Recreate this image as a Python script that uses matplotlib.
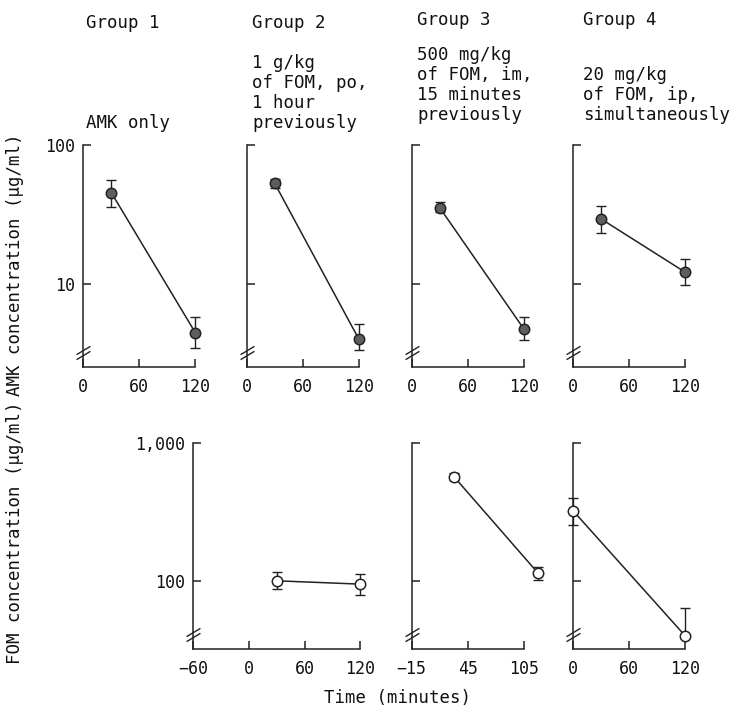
# ─────────────────────────────────────────────────────────
# plot.py
# AMK / FOM serum concentrations, groups 1-4
# → top row: AMK (filled), bottom row: FOM (open)
# ─────────────────────────────────────────────────────────

import numpy as np
import matplotlib
matplotlib.use("Agg")
import matplotlib.pyplot as plt
from matplotlib.ticker import NullLocator

plt.rcParams["font.family"] = ["DejaVu Sans Mono", "DejaVu Sans"]

INK = "#222222"
W, H = 736, 711


# ══════════════════════════════════════════════════════════
# DATA
# ══════════════════════════════════════════════════════════

amk_time = [30, 120]

amk_g1 = [45.5, 4.5]
amk_g1_lo = [36.0, 3.47]
amk_g1_hi = [56.0, 5.8]

amk_g2 = [53.0, 4.06]
amk_g2_lo = [49.4, 3.35]
amk_g2_hi = [57.0, 5.19]

amk_g3 = [35.5, 4.8]
amk_g3_lo = [33.0, 4.0]
amk_g3_hi = [38.7, 5.8]

amk_g4 = [29.4, 12.2]
amk_g4_lo = [23.2, 9.9]
amk_g4_hi = [36.2, 15.2]

fom_g2_time = [30, 120]
fom_g2 = [100.0, 94.6]
fom_g2_lo = [87.0, 78.7]
fom_g2_hi = [115.0, 112.0]

fom_g3_time = [30, 120]
fom_g3 = [570.0, 113.0]
fom_g3_lo = [537.0, 102.0]
fom_g3_hi = [610.0, 125.0]

fom_g4_time = [0, 120]
fom_g4 = [321.0, 40.0]
fom_g4_lo = [253.0, 40.0]
fom_g4_hi = [402.0, 63.7]

amk_yticks = [10, 100]
amk_yticklabels = ["10", "100"]
fom_yticks = [100, 1000]
fom_yticklabels = ["100", "1,000"]

amk_xticks = [0, 60, 120]
fom_g2_xticks = [-60, 0, 60, 120]
fom_g3_xticks = [-15, 45, 105]
fom_g4_xticks = [0, 60, 120]

group_titles = ["Group 1", "Group 2", "Group 3", "Group 4"]
group_notes = [
    ["AMK only"],
    ["1 g/kg", "of FOM, po,", "1 hour", "previously"],
    ["500 mg/kg", "of FOM, im,", "15 minutes", "previously"],
    ["20 mg/kg", "of FOM, ip,", "simultaneously"],
]


# ══════════════════════════════════════════════════════════
# HELPERS
# ══════════════════════════════════════════════════════════

fig = plt.figure(figsize=(W / 100, H / 100), dpi=100)


def rect_px(left, top, width, height):
    """Pixel box → figure fraction"""
    return [left / W, (H - top - height) / H, width / W, height / H]


def panel(box, x, y, lo, hi, xlim, ylim, xticks, yticks, ylabels,
          filled, show_ylabels):
    ax = fig.add_axes(rect_px(*box))
    ax.set_yscale("log")
    ax.set_xlim(*xlim)
    ax.set_ylim(*ylim)

    y = np.array(y)
    yerr = [y - np.array(lo), np.array(hi) - y]
    eb = ax.errorbar(x, y, yerr=yerr, fmt="none", ecolor=INK,
                     elinewidth=1.0, capsize=3.3, capthick=1.0, zorder=2)
    for art in list(eb.lines[1]) + list(eb.lines[2]):
        art.set_clip_on(False)

    face = "#5e5e5e" if filled else "white"
    ax.plot(x, y, "-o", color=INK, lw=1.1, ms=7.5, mfc=face, mec=INK,
            mew=1.1, clip_on=False, zorder=3)

    # ─── Achsen ───────────────────────────────────────────
    for s in ["top", "right"]:
        ax.spines[s].set_visible(False)
    for s in ["left", "bottom"]:
        ax.spines[s].set_linewidth(1.1)
        ax.spines[s].set_color(INK)

    ax.set_xticks(xticks)
    ax.set_xticklabels([str(t).replace("-", "\u2212") for t in xticks])
    ax.set_yticks(yticks)
    ax.set_yticklabels(ylabels)
    ax.yaxis.set_minor_locator(NullLocator())
    ax.xaxis.set_minor_locator(NullLocator())
    ax.tick_params(direction="in", length=5.5, width=1.1, colors=INK,
                   labelsize=12, labelcolor="#111111")
    ax.tick_params(axis="x", pad=8)
    ax.tick_params(axis="y", pad=6, labelleft=show_ylabels)

    # ─── Achsenbruch // ───────────────────────────────────
    h_px = box[3]
    for off in (12.5, 17.0):
        ax.plot([0], [off / h_px], transform=ax.transAxes,
                marker=[(-1, -0.6), (1, 0.6)], ms=10, mew=1.0,
                color=INK, linestyle="none", clip_on=False, zorder=4)
    return ax


# ══════════════════════════════════════════════════════════
# TOP ROW: AMK
# ══════════════════════════════════════════════════════════

amk_ylim = (2.55, 100)
top_y, top_h = 145, 222
top_lefts = [83.3, 246.7, 411.7, 573.3]
amk_sets = [
    (amk_g1, amk_g1_lo, amk_g1_hi),
    (amk_g2, amk_g2_lo, amk_g2_hi),
    (amk_g3, amk_g3_lo, amk_g3_hi),
    (amk_g4, amk_g4_lo, amk_g4_hi),
]

for i, (vals, lo, hi) in enumerate(amk_sets):
    panel((top_lefts[i], top_y, 112, top_h), amk_time, vals, lo, hi,
          (0, 120), amk_ylim, amk_xticks, amk_yticks, amk_yticklabels,
          filled=True, show_ylabels=(i == 0))


# ══════════════════════════════════════════════════════════
# BOTTOM ROW: FOM
# ══════════════════════════════════════════════════════════

fom_ylim = (32, 1000)
bot_y, bot_h = 443, 206

panel((193, bot_y, 167.4, bot_h), fom_g2_time, fom_g2, fom_g2_lo,
      fom_g2_hi, (-60, 120), fom_ylim, fom_g2_xticks, fom_yticks,
      fom_yticklabels, filled=False, show_ylabels=True)
panel((411.7, bot_y, 112.6, bot_h), fom_g3_time, fom_g3, fom_g3_lo,
      fom_g3_hi, (-15, 105), fom_ylim, fom_g3_xticks, fom_yticks,
      fom_yticklabels, filled=False, show_ylabels=False)
panel((573.3, bot_y, 111.7, bot_h), fom_g4_time, fom_g4, fom_g4_lo,
      fom_g4_hi, (0, 120), fom_ylim, fom_g4_xticks, fom_yticks,
      fom_yticklabels, filled=False, show_ylabels=False)


# ══════════════════════════════════════════════════════════
# TEXT
# ══════════════════════════════════════════════════════════

def ftext(x, y, s, **kw):
    kw.setdefault("fontsize", 12.5)
    kw.setdefault("color", "#111111")
    fig.text(x / W, 1 - y / H, s, **kw)


title_x = [86, 252, 417, 583]
title_y = [23, 23, 20, 20]
note_last_y = [123, 123, 115, 115]

for i, title in enumerate(group_titles):
    ftext(title_x[i], title_y[i], title, ha="left", va="center")
    lines = group_notes[i]
    for k, line in enumerate(lines):
        yy = note_last_y[i] - 20 * (len(lines) - 1 - k)
        ftext(title_x[i], yy, line, ha="left", va="center")

ftext(15, 265, "AMK concentration (\u00b5g/ml)", rotation=90,
      ha="center", va="center")
ftext(15, 533, "FOM concentration (\u00b5g/ml)", rotation=90,
      ha="center", va="center")
ftext(398, 698, "Time (minutes)", ha="center", va="center")

fig.savefig("out.png", dpi=100)
